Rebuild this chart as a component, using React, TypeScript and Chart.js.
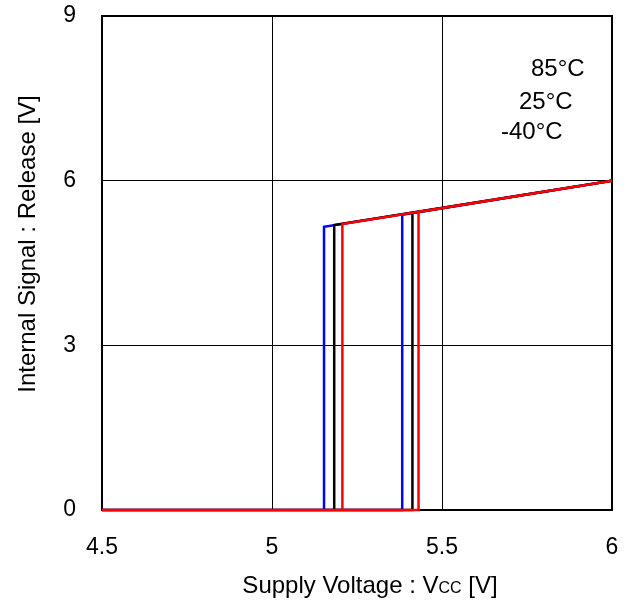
import React, { useEffect, useRef } from "react";
import { Chart, registerables } from "chart.js";

Chart.register(...registerables);

// Hysteresis loops: rise along 0 to the upper threshold, jump to the line,
// follow the line to 6 V, come back down to the lower threshold, drop to 0.
const blueX = [4.5, 5.383, 5.383, 6.0, 5.153, 5.153, 4.5];
const blueY = [0, 0, 5.38, 6.0, 5.16, 0, 0];
const blackX = [4.5, 5.413, 5.413, 6.0, 5.183, 5.183, 4.5];
const blackY = [0, 0, 5.41, 6.0, 5.19, 0, 0];
const redX = [4.5, 5.431, 5.431, 6.0, 5.207, 5.207, 4.5];
const redY = [0, 0, 5.43, 6.0, 5.21, 0, 0];

const tempLabels = ["85°C", "25°C", "-40°C"];
const xTicks = [4.5, 5, 5.5, 6];
const yTicks = [0, 3, 6, 9];

const FONT = "'Liberation Sans', Arial, sans-serif";

const pts = (xs: number[], ys: number[]) => xs.map((x, i) => ({ x, y: ys[i] }));

export default function App() {
  const ref = useRef<HTMLCanvasElement | null>(null);

  useEffect(() => {
    if (!ref.current) return;

    const frame = {
      id: "frame",
      beforeDatasetsDraw(chart: any) {
        const { ctx, chartArea: a } = chart;
        ctx.save();
        ctx.strokeStyle = "#000";
        ctx.lineWidth = 2;
        ctx.strokeRect(a.left, a.top, a.right - a.left, a.bottom - a.top);
        ctx.restore();
      },
      afterDraw(chart: any) {
        const { ctx } = chart;
        ctx.save();
        ctx.fillStyle = "#000";
        // x title with subscript
        const big = `24px ${FONT}`;
        const small = `16px ${FONT}`;
        const p1 = "Supply Voltage : V";
        const p2 = "CC";
        const p3 = " [V]";
        ctx.font = big;
        const w1 = ctx.measureText(p1).width;
        const w3 = ctx.measureText(p3).width;
        ctx.font = small;
        const w2 = ctx.measureText(p2).width;
        const total = w1 + w2 + w3;
        const cx = 370;
        let x = cx - total / 2;
        const base = 593;
        ctx.textBaseline = "alphabetic";
        ctx.textAlign = "left";
        ctx.font = big;
        ctx.fillText(p1, x, base);
        x += w1;
        ctx.font = small;
        ctx.fillText(p2, x, base);
        x += w2;
        ctx.font = big;
        ctx.fillText(p3, x, base);

        // y title
        ctx.save();
        ctx.translate(28, 244);
        ctx.rotate(-Math.PI / 2);
        ctx.textAlign = "center";
        ctx.textBaseline = "middle";
        ctx.font = big;
        ctx.fillText("Internal Signal : Release [V]", 0, 0);
        ctx.restore();

        // temperature labels
        ctx.font = big;
        ctx.textAlign = "left";
        ctx.textBaseline = "middle";
        const lx = [531, 519, 501];
        const ly = [69, 102, 132];
        tempLabels.forEach((t, i) => ctx.fillText(t, lx[i], ly[i]));
        ctx.restore();
      },
    };

    const chart = new Chart(ref.current, {
      type: "line",
      data: {
        // first dataset is drawn on top, so red comes first
        datasets: [
          { label: "85°C", data: pts(redX, redY), borderColor: "#ff0000" },
          { label: "25°C", data: pts(blackX, blackY), borderColor: "#000000" },
          { label: "-40°C", data: pts(blueX, blueY), borderColor: "#0000ff" },
        ].map((d) => ({
          ...d,
          borderWidth: 2.5,
          pointRadius: 0,
          tension: 0,
          fill: false,
          clip: false as any,
        })),
      },
      options: {
        animation: false,
        responsive: false,
        devicePixelRatio: 1,
        layout: { padding: { left: 0, right: 16, top: 16, bottom: 0 } },
        plugins: { legend: { display: false }, tooltip: { enabled: false } },
        scales: {
          x: {
            type: "linear",
            min: 4.5,
            max: 6,
            afterBuildTicks: (s: any) => {
              s.ticks = xTicks.map((v) => ({ value: v }));
            },
            afterFit: (s: any) => {
              s.height = 90;
              s.paddingLeft = 0;
              s.paddingRight = 0;
            },
            grid: { color: "#000", lineWidth: 1, drawTicks: false },
            border: { display: false },
            ticks: {
              color: "#000",
              font: { family: FONT, size: 23 },
              padding: 24,
              maxRotation: 0,
              callback: (v: any) => String(v),
            },
          },
          y: {
            type: "linear",
            min: 0,
            max: 9,
            afterBuildTicks: (s: any) => {
              s.ticks = yTicks.map((v) => ({ value: v }));
            },
            afterFit: (s: any) => {
              s.width = 102;
              s.paddingTop = 0;
              s.paddingBottom = 0;
            },
            grid: { color: "#000", lineWidth: 1, drawTicks: false },
            border: { display: false },
            ticks: {
              color: "#000",
              font: { family: FONT, size: 23 },
              padding: 26,
              callback: (v: any) => String(v),
            },
          },
        },
      },
      plugins: [frame],
    });

    return () => chart.destroy();
  }, []);

  return (
    <div style={{ position: "fixed", left: 0, top: 0, width: 628, height: 600, background: "#fff" }}>
      <canvas ref={ref} width={628} height={600} />
    </div>
  );
}
